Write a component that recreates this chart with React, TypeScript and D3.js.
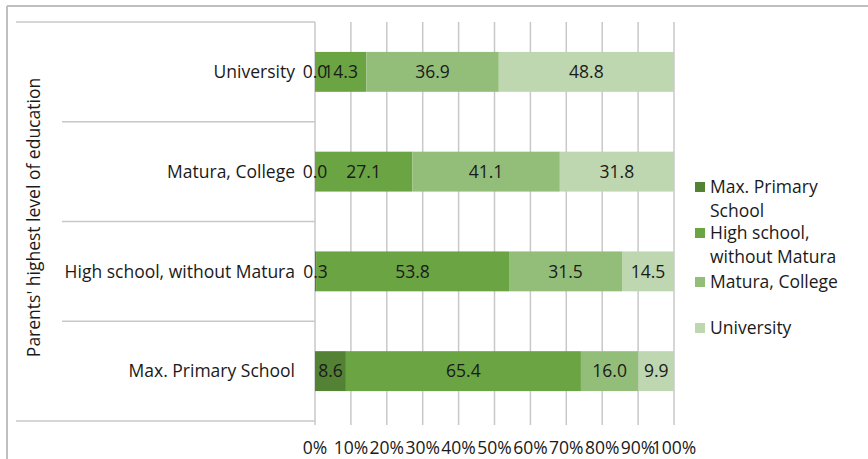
import React from "react";
import * as d3 from "d3";

const categories = ["University", "Matura, College", "High school, without Matura", "Max. Primary School"];
const seriesNames = ["Max. Primary School", "High school, without Matura", "Matura, College", "University"];
const maxPrimary = [0.0, 0.0, 0.3, 8.6];
const highSchool = [14.3, 27.1, 53.8, 65.4];
const maturaCollege = [36.9, 41.1, 31.5, 16.0];
const university = [48.8, 31.8, 14.5, 9.9];
const xTicks = [0, 10, 20, 30, 40, 50, 60, 70, 80, 90, 100];
const colors = ["#548235", "#6aa443", "#93be7a", "#bed7b1"];
const legendLines = [["Max. Primary", "School"], ["High school,", "without Matura"], ["Matura, College"], ["University"]];

const W = 868;
const H = 459;
const font = "'Open Sans', 'Noto Sans', sans-serif";
const fs = 17.5;

export default function App() {
  const x = d3.scaleLinear().domain([0, 100]).range([315, 674]);
  const y = d3.scaleBand().domain(categories).range([22, 421]).paddingInner(0.6).paddingOuter(0.3);
  const series = [maxPrimary, highSchool, maturaCollege, university];
  const rows = categories.map((c, i) => {
    const vals = series.map((s) => s[i]);
    const total = d3.sum(vals);
    let acc = 0;
    return vals.map((v, k) => {
      const x0 = (acc / total) * 100;
      acc += v;
      const x1 = (acc / total) * 100;
      return { c, v, k, x0, x1 };
    });
  });
  const sepYs = d3.range(categories.length + 1).map((i) => 22 + (i * (421 - 22)) / categories.length);
  const legendY = [187, 233, 282, 328];

  return (
    <svg width={W} height={H} style={{ position: "absolute", left: 0, top: 0 }}>
      <rect x={0} y={0} width={W} height={H} fill="#fff" />
      <line x1={7} y1={6} x2={W} y2={6} stroke="#bfbfbf" strokeWidth={2} />
      <line x1={7} y1={6} x2={7} y2={H} stroke="#bfbfbf" strokeWidth={2} />
      {xTicks.map((t) => (
        <line key={t} x1={x(t)} x2={x(t)} y1={22} y2={425} stroke="#c8c8c8" strokeWidth={1.5} />
      ))}
      {sepYs.map((sy, i) => (
        <line key={i} x1={i === 0 || i === sepYs.length - 1 ? 16 : 62} x2={315} y1={sy} y2={sy} stroke="#c8c8c8" strokeWidth={1.5} />
      ))}
      {rows.map((r, i) =>
        r.map((seg) => (
          <rect key={i + "-" + seg.k} x={x(seg.x0)} width={x(seg.x1) - x(seg.x0)} y={y(seg.c)} height={y.bandwidth()} fill={colors[seg.k]} />
        ))
      )}
      {rows.map((r, i) =>
        r.map((seg) => (
          <text key={"t" + i + "-" + seg.k} x={(x(seg.x0) + x(seg.x1)) / 2} y={y(seg.c)! + y.bandwidth() / 2} dy="0.36em" textAnchor="middle" fontFamily={font} fontSize={fs} fill="#1a1a1a">
            {seg.v.toFixed(1)}
          </text>
        ))
      )}
      {categories.map((c) => (
        <text key={c} x={295} y={y(c)! + y.bandwidth() / 2} dy="0.36em" textAnchor="end" fontFamily={font} fontSize={fs} fill="#1a1a1a">
          {c}
        </text>
      ))}
      {xTicks.map((t) => (
        <text key={"x" + t} x={x(t)} y={448} dy="0.36em" textAnchor="middle" fontFamily={font} fontSize={fs} fill="#1a1a1a">
          {t + "%"}
        </text>
      ))}
      <text transform={`translate(34,${(83 + 352) / 2}) rotate(-90)`} textAnchor="middle" dy="0.36em" fontFamily={font} fontSize={fs} fill="#1a1a1a">
        Parents' highest level of education
      </text>
      {seriesNames.map((s, k) => (
        <g key={s}>
          <rect x={695} y={legendY[k] - 5} width={10} height={10} fill={colors[k]} />
          {legendLines[k].map((ln, j) => (
            <text key={j} x={710} y={legendY[k] + j * 23.5} dy="0.36em" fontFamily={font} fontSize={fs} fill="#1a1a1a">
              {ln}
            </text>
          ))}
        </g>
      ))}
    </svg>
  );
}
